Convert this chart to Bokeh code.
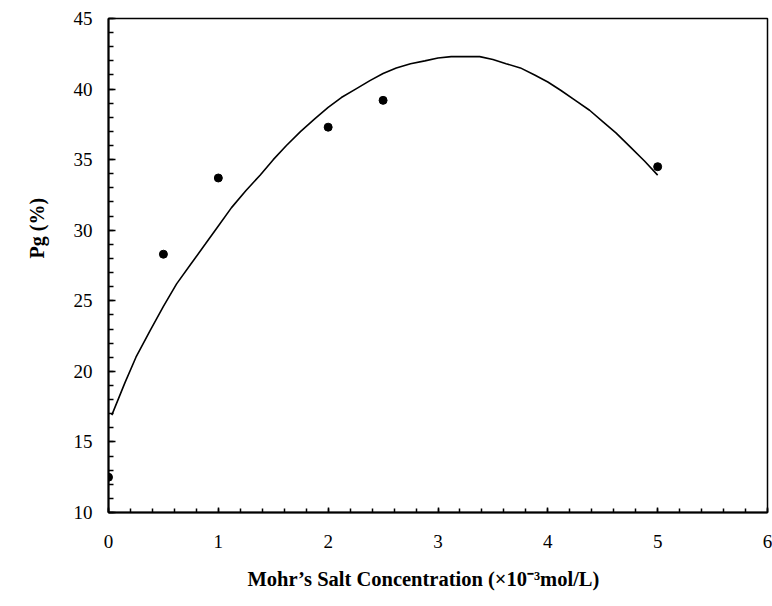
from bokeh.plotting import figure
from bokeh.models import Range1d, SingleIntervalTicker, Title
from bokeh.embed import file_html
from bokeh.resources import INLINE

# measured points
conc = [0.0, 0.5, 1.0, 2.0, 2.5, 5.0]
pg = [12.5, 28.3, 33.7, 37.3, 39.2, 34.5]

# fitted curve
fit_x = [0.03, 0.15, 0.25, 0.38, 0.5, 0.62, 0.75, 0.88, 1.0, 1.12, 1.25, 1.38,
         1.5, 1.62, 1.75, 1.88, 2.0, 2.12, 2.25, 2.38, 2.5, 2.62, 2.75, 2.88,
         3.0, 3.12, 3.25, 3.38, 3.5, 3.62, 3.75, 3.88, 4.0, 4.12, 4.25, 4.38,
         4.5, 4.62, 4.75, 4.88, 5.0]
fit_y = [16.9, 19.2, 21.0, 22.9, 24.6, 26.2, 27.6, 29.0, 30.3, 31.6, 32.8, 33.9,
         35.0, 36.0, 37.0, 37.9, 38.7, 39.4, 40.0, 40.6, 41.1, 41.5, 41.8, 42.0,
         42.2, 42.3, 42.3, 42.3, 42.1, 41.8, 41.5, 41.0, 40.5, 39.9, 39.2, 38.5,
         37.7, 36.9, 35.9, 34.9, 33.9]

x_ticks_interval = 1
y_ticks_interval = 5

x_title = "Mohr\u2019s Salt Concentration (\u00d710\u207b\u00b3mol/L)"
y_title = "Pg (%)"

FONT = "Liberation Serif"

p = figure(width=772, height=606, output_backend="svg", toolbar_location=None,
           x_range=Range1d(0, 6), y_range=Range1d(10, 45),
           min_border_left=108, min_border_right=5, min_border_top=18,
           min_border_bottom=94)
p.grid.visible = False
p.outline_line_color = "black"
p.outline_line_width = 1.5
p.background_fill_color = "white"
p.border_fill_color = "white"

p.xaxis.ticker = SingleIntervalTicker(interval=x_ticks_interval, num_minor_ticks=5)
p.yaxis.ticker = SingleIntervalTicker(interval=y_ticks_interval, num_minor_ticks=5)
for ax in (p.xaxis, p.yaxis):
    ax.axis_line_color = "black"
    ax.axis_line_width = 2
    ax.major_tick_line_color = "black"
    ax.minor_tick_line_color = "black"
    ax.major_tick_line_width = 1.5
    ax.minor_tick_line_width = 1.5
    ax.major_tick_out = 0
    ax.minor_tick_out = 0
    ax.major_label_text_font = FONT
    ax.major_label_text_font_size = "19px"
    ax.major_label_text_color = "black"
p.xaxis.major_tick_in = 5
p.xaxis.minor_tick_in = 4
p.yaxis.major_tick_in = 7
p.yaxis.minor_tick_in = 5
p.xaxis.major_label_standoff = 22
p.yaxis.major_label_standoff = 16

p.line(fit_x, fit_y, line_color="black", line_width=1.6)
p.scatter(conc, pg, size=8, marker="circle", fill_color="black", line_color="black")

p.add_layout(Title(text=x_title, align="left", offset=139, standoff=30,
                   text_font=FONT, text_font_style="bold", text_font_size="20.5px",
                   text_color="black"), "below")
p.add_layout(Title(text=y_title, align="left", offset=254, standoff=45,
                   text_font=FONT, text_font_style="bold", text_font_size="20px",
                   text_color="black"), "left")

open("out.html", "w").write(file_html(p, INLINE))
